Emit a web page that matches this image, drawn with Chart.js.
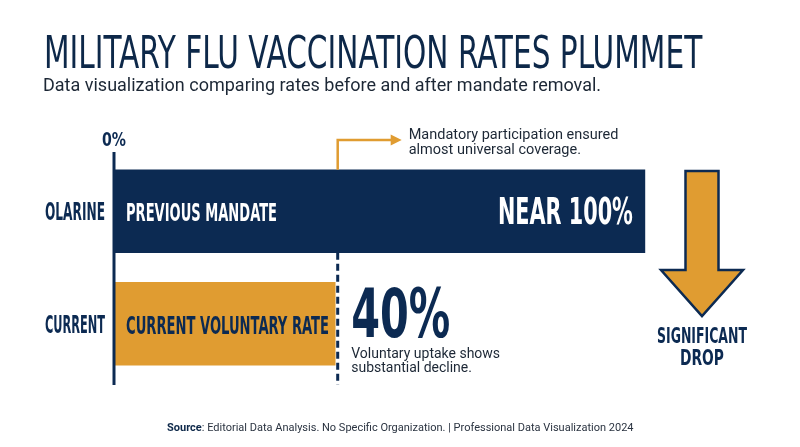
<!DOCTYPE html>
<html>
<head>
<meta charset="utf-8">
<title>Military Flu Vaccination Rates</title>
<script src="https://cdn.jsdelivr.net/npm/chart.js@4.4.1/dist/chart.umd.min.js"></script>
<style>
    html, body { margin: 0; padding: 0; background: #ffffff; }
    #page { position: relative; width: 800px; height: 447px; overflow: hidden; font-family: Roboto, "Noto Sans", sans-serif; }
    #chart-wrap { position: absolute; left: 0; top: 0; width: 800px; height: 447px; }
    .title {
        position: absolute; left: 44px; top: 29px; margin: 0;
        font-family: "Liberation Sans Narrow", "DejaVu Sans Condensed", sans-serif;
        font-weight: normal; font-size: 45px; line-height: 48px;
        color: #0d2849; white-space: nowrap; transform-origin: left top;
    }
    .subtitle {
        position: absolute; left: 43px; top: 74px; margin: 0;
        font-size: 18px; line-height: 22px; color: #1c2735; white-space: nowrap;
    }
    .footer {
        position: absolute; left: 167px; top: 421px; margin: 0;
        font-size: 11px; line-height: 14px; color: #2a3340; white-space: nowrap;
    }
    .footer b { color: #0d2849; }
</style>
</head>
<body>
<div id="page">
    <div id="chart-wrap"><canvas id="flu-chart"></canvas></div>
    <h1 class="title" id="title">MILITARY FLU VACCINATION RATES PLUMMET</h1>
    <p class="subtitle">Data visualization comparing rates before and after mandate removal.</p>
    <p class="footer"><b>Source</b>: Editorial Data Analysis. No Specific Organization. | Professional Data Visualization 2024</p>
</div>
<script>
// data
const categories = ['OLARINE', 'CURRENT'];
const barNames = ['PREVIOUS MANDATE', 'CURRENT VOLUNTARY RATE'];
const rates = [96, 40];
const valueLabels = ['NEAR 100%', '40%'];
const xTicks = [0];

const NAVY = '#0c2a52';
const GOLD = '#e09c31';
const NARROW = '"Liberation Sans Narrow", "DejaVu Sans Condensed", sans-serif';
const BODY = 'Roboto, "Noto Sans", sans-serif';

// squeeze the title to the width it has in the design
const titleEl = document.getElementById('title');
titleEl.style.transform = `scaleX(${658 / titleEl.offsetWidth})`;

const overlayPlugin = {
    id: 'overlay',
    afterDatasetsDraw(chart) {
        const { ctx, chartArea } = chart;
        const xs = chart.scales.x;
        const ys = chart.scales.y;
        const bars = chart.getDatasetMeta(0).data;
        const x0 = xs.getPixelForValue(0);

        ctx.save();

        // axis line
        ctx.strokeStyle = NAVY;
        ctx.lineWidth = 3;
        ctx.beginPath();
        ctx.moveTo(x0, chartArea.top - 3);
        ctx.lineTo(x0, chartArea.bottom + 5);
        ctx.stroke();

        // 0% tick
        ctx.fillStyle = NAVY;
        ctx.textAlign = 'center';
        ctx.textBaseline = 'alphabetic';
        ctx.font = `bold 19px ${NARROW}`;
        xTicks.forEach(t => ctx.fillText(t + '%', xs.getPixelForValue(t), chartArea.top - 9, 24));

        // category labels + labels inside bars
        categories.forEach((cat, i) => {
            const yc = ys.getPixelForValue(i);
            ctx.font = `bold 25px ${NARROW}`;
            ctx.textAlign = 'right';
            ctx.fillStyle = NAVY;
            ctx.fillText(cat, x0 - 9, yc + 9, 60);

            ctx.textAlign = 'left';
            ctx.fillStyle = i === 0 ? '#ffffff' : NAVY;
            ctx.fillText(barNames[i], x0 + 12, yc + 10, i === 0 ? 151 : 203);
        });

        // value label inside previous bar
        const prev = bars[0];
        ctx.font = `bold 37px ${NARROW}`;
        ctx.textAlign = 'right';
        ctx.fillStyle = '#ffffff';
        ctx.fillText(valueLabels[0], prev.x - 12, prev.y + 13, 135);

        // value label after current bar
        const cur = bars[1];
        const curEnd = cur.x;
        ctx.font = `bold 67px ${NARROW}`;
        ctx.textAlign = 'left';
        ctx.fillStyle = NAVY;
        ctx.fillText(valueLabels[1], curEnd + 16, cur.y + 13, 99);

        ctx.font = `14px ${BODY}`;
        ctx.fillStyle = '#1c2735';
        ctx.fillText('Voluntary uptake shows', curEnd + 16, cur.y + 34);
        ctx.fillText('substantial decline.', curEnd + 16, cur.y + 48);

        // dashed marker at the current level
        const dashX = curEnd + 2.5;
        ctx.strokeStyle = NAVY;
        ctx.lineWidth = 3;
        ctx.setLineDash([7, 4]);
        ctx.beginPath();
        ctx.moveTo(dashX, prev.y + prev.height / 2);
        ctx.lineTo(dashX, chartArea.bottom + 5);
        ctx.stroke();
        ctx.setLineDash([]);

        // gold callout for the mandate bar
        const calloutY = 140;
        ctx.strokeStyle = GOLD;
        ctx.lineWidth = 2.5;
        ctx.beginPath();
        ctx.moveTo(dashX, prev.y - prev.height / 2);
        ctx.lineTo(dashX, calloutY);
        ctx.lineTo(dashX + 54, calloutY);
        ctx.stroke();
        ctx.fillStyle = GOLD;
        ctx.beginPath();
        ctx.moveTo(dashX + 64, calloutY);
        ctx.lineTo(dashX + 53, calloutY - 5.5);
        ctx.lineTo(dashX + 53, calloutY + 5.5);
        ctx.closePath();
        ctx.fill();

        ctx.font = `14.5px ${BODY}`;
        ctx.fillStyle = '#1c2735';
        ctx.fillText('Mandatory participation ensured', dashX + 71, 139);
        ctx.fillText('almost universal coverage.', dashX + 71, 154);

        // big drop arrow
        const ax = 702;
        ctx.fillStyle = GOLD;
        ctx.strokeStyle = NAVY;
        ctx.lineWidth = 2.5;
        ctx.lineJoin = 'miter';
        ctx.beginPath();
        ctx.moveTo(ax - 16.5, 171);
        ctx.lineTo(ax + 16.5, 171);
        ctx.lineTo(ax + 16.5, 270);
        ctx.lineTo(ax + 41, 270);
        ctx.lineTo(ax, 316);
        ctx.lineTo(ax - 41, 270);
        ctx.lineTo(ax - 16.5, 270);
        ctx.closePath();
        ctx.fill();
        ctx.stroke();

        ctx.font = `bold 21px ${NARROW}`;
        ctx.textAlign = 'center';
        ctx.fillStyle = NAVY;
        ctx.fillText('SIGNIFICANT', ax, 343, 90);
        ctx.fillText('DROP', ax, 365, 44);

        ctx.restore();
    }
};

new Chart(document.getElementById('flu-chart'), {
    type: 'bar',
    data: {
        labels: categories,
        datasets: [{
            data: rates,
            backgroundColor: [NAVY, GOLD],
            borderWidth: 0,
            barThickness: 83
        }]
    },
    options: {
        indexAxis: 'y',
        responsive: true,
        maintainAspectRatio: false,
        animation: false,
        layout: { padding: { left: 114, right: 133, top: 155, bottom: 67 } },
        scales: {
            x: { display: false, min: 0, max: 100 },
            y: { display: false }
        },
        plugins: {
            legend: { display: false },
            tooltip: { enabled: false }
        }
    },
    plugins: [overlayPlugin]
});
</script>
</body>
</html>
